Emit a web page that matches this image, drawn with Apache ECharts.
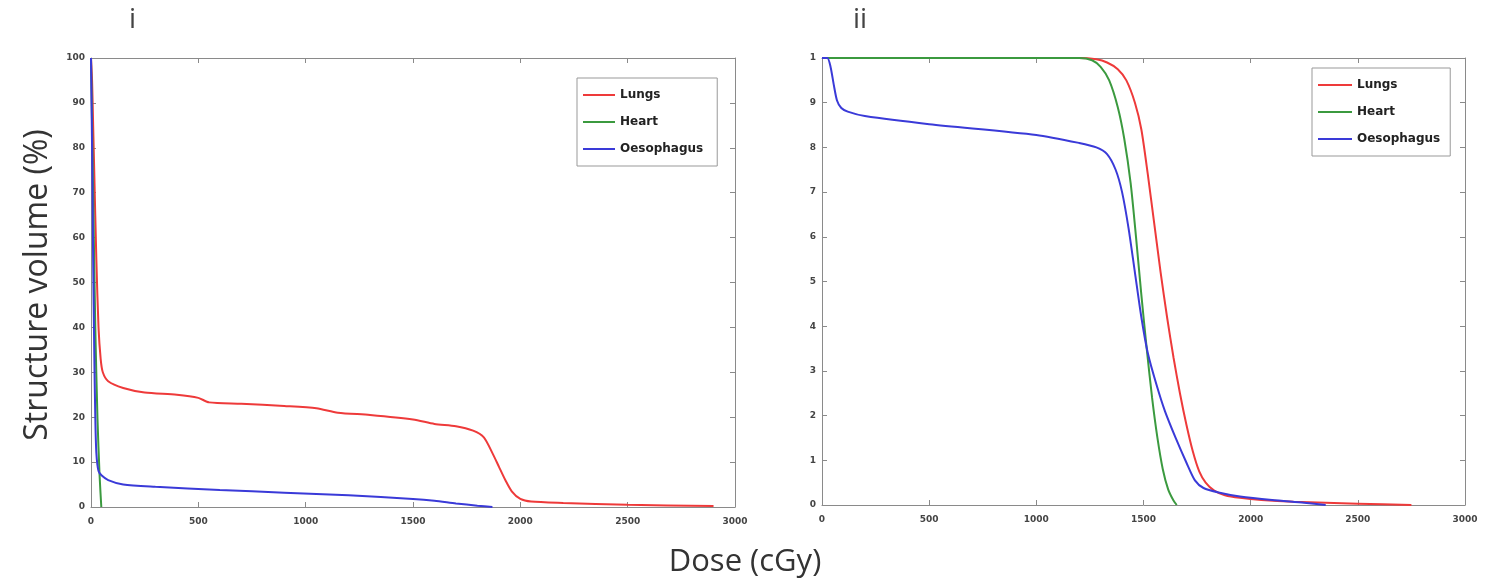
<!DOCTYPE html>
<html>
<head>
<meta charset="utf-8">
<script src="https://cdn.jsdelivr.net/npm/echarts@6/dist/echarts.min.js"></script>
<style>
  html, body { margin: 0; padding: 0; background: #fff; }
  #main { width: 1495px; height: 584px; }
</style>
</head>
<body>
<div id="main"></div>
<script>
// panel i
var lungsDoseI = [0, 5, 10, 15, 25, 35, 45, 55, 80, 150, 250, 400, 500, 550, 700, 900, 1050, 1150, 1300, 1500, 1600, 1700, 1780, 1830, 1870, 1900, 1930, 1960, 2000, 2050, 2200, 2500, 2900];
var lungsVolI  = [100, 95, 85, 75, 55, 40, 33, 30, 28, 26.5, 25.5, 25, 24.3, 23.3, 23, 22.5, 22, 21, 20.5, 19.5, 18.5, 18, 17, 15.5, 12, 9, 6, 3.5, 1.8, 1.2, 0.9, 0.5, 0.2];
var heartDoseI = [0, 10, 20, 30, 40, 48];
var heartVolI  = [100, 70, 40, 20, 7, 0];
var oesoDoseI  = [0, 5, 10, 15, 20, 25, 35, 50, 80, 150, 300, 600, 900, 1200, 1500, 1600, 1700, 1800, 1870];
var oesoVolI   = [100, 80, 55, 35, 20, 12, 8, 7, 6, 5, 4.5, 3.8, 3.2, 2.6, 1.8, 1.4, 0.8, 0.3, 0];

// panel ii
var lungsDoseII = [0, 1200, 1280, 1330, 1380, 1420, 1460, 1490, 1520, 1550, 1580, 1610, 1640, 1670, 1700, 1730, 1760, 1790, 1830, 1880, 1950, 2050, 2200, 2500, 2750];
var lungsVolII  = [100, 100, 99.7, 99, 97.5, 95, 90, 84, 74, 63, 52, 42, 33, 25, 18, 12, 7.5, 5, 3.2, 2.2, 1.6, 1.1, 0.7, 0.3, 0];
var heartDoseII = [0, 1200, 1260, 1300, 1340, 1380, 1410, 1440, 1465, 1490, 1515, 1540, 1565, 1590, 1615, 1640, 1655];
var heartVolII  = [100, 100, 99.5, 98, 95, 89, 82, 72, 60, 47, 35, 24, 15, 8, 3.5, 1, 0];
var oesoDoseII  = [0, 25, 40, 55, 70, 90, 120, 200, 500, 1000, 1200, 1280, 1330, 1370, 1400, 1430, 1460, 1490, 1520, 1560, 1600, 1650, 1700, 1740, 1780, 1850, 1950, 2100, 2250, 2350];
var oesoVolII   = [100, 100, 98, 94, 90.5, 88.8, 88, 87, 85.2, 82.8, 81, 80, 78.5, 75, 70, 62, 52, 42, 34, 27, 21, 15, 9.5, 5.5, 3.8, 2.8, 1.9, 1.1, 0.5, 0];

var names = ['Lungs', 'Heart', 'Oesophagus'];
var colors = ['#ee3a3a', '#3b9a3f', '#3a3ad8'];

function pairs(xs, ys) {
  return xs.map(function (x, i) { return [x, ys[i]]; });
}

var tickFont = { fontSize: 9, fontWeight: 'bold', color: '#444', fontFamily: 'DejaVu Sans' };
var boxColor = '#8a8a8a';

function mainX(grid) {
  return {
    type: 'value', gridIndex: grid, min: 0, max: 3000, interval: 500,
    axisLine: { show: true, onZero: false, lineStyle: { color: boxColor } },
    axisTick: { show: true, inside: true, length: 5, lineStyle: { color: boxColor } },
    axisLabel: Object.assign({ margin: 10, formatter: function (v) { return String(v); } }, tickFont),
    splitLine: { show: false }
  };
}
function boxX(grid) {
  return {
    type: 'value', gridIndex: grid, min: 0, max: 3000, interval: 500, position: 'top',
    axisLine: { show: true, onZero: false, lineStyle: { color: boxColor } },
    axisTick: { show: true, inside: true, length: 5, lineStyle: { color: boxColor } },
    axisLabel: { show: false }, splitLine: { show: false }
  };
}
function mainY(grid, fmt) {
  return {
    type: 'value', gridIndex: grid, min: 0, max: 100, interval: 10,
    axisLine: { show: true, onZero: false, lineStyle: { color: boxColor } },
    axisTick: { show: true, inside: true, length: 5, lineStyle: { color: boxColor } },
    axisLabel: Object.assign({ margin: 6, formatter: fmt }, tickFont),
    splitLine: { show: false }
  };
}
function boxY(grid) {
  return {
    type: 'value', gridIndex: grid, min: 0, max: 100, interval: 10, position: 'right',
    axisLine: { show: true, onZero: false, lineStyle: { color: boxColor } },
    axisTick: { show: true, inside: true, length: 5, lineStyle: { color: boxColor } },
    axisLabel: { show: false }, splitLine: { show: false }
  };
}

function line(name, color, data, xi, yi) {
  return {
    name: name, type: 'line', xAxisIndex: xi, yAxisIndex: yi,
    data: data, symbol: 'none', smooth: 0.25,
    lineStyle: { color: color, width: 2 }, itemStyle: { color: color },
    z: 3
  };
}

var legendBase = {
  orient: 'vertical', data: names, icon: 'path://M0,0 L32,0 L32,2 L0,2 Z',
  itemGap: 15, itemHeight: 12,
  borderColor: '#999', borderWidth: 1, backgroundColor: '#fff',
  textStyle: { fontSize: 12, fontWeight: 'bold', color: '#222', fontFamily: 'DejaVu Sans' }
};

var chart = echarts.init(document.getElementById('main'));
chart.setOption({
  animation: false,
  color: colors,
  grid: [
    { left: 91, top: 58, width: 644, height: 449 },
    { left: 822, top: 58, width: 643, height: 447 }
  ],
  xAxis: [mainX(0), boxX(0), mainX(1), boxX(1)],
  yAxis: [
    mainY(0, '{value}'), boxY(0),
    mainY(1, function (v) { return String(v).charAt(0); }), boxY(1)
  ],
  legend: [
    Object.assign({}, legendBase, { left: 577, top: 78, itemWidth: 32, padding: [11, 14, 11, 6] }),
    Object.assign({}, legendBase, { left: 1312, top: 68, itemWidth: 34, padding: [11, 10, 11, 6] })
  ],
  graphic: [
    { type: 'text', left: 129, top: 6, style: { text: 'i', fontSize: 28, fill: '#444', fontFamily: 'Open Sans' } },
    { type: 'text', left: 853, top: 6, style: { text: 'ii', fontSize: 28, fill: '#444', fontFamily: 'Open Sans' } },
    { type: 'text', x: 38, y: 285, rotation: Math.PI / 2,
      style: { text: 'Structure volume (%)', fontSize: 32, fill: '#333', fontFamily: 'Open Sans', align: 'center', verticalAlign: 'middle' } },
    { type: 'text', x: 745, y: 562,
      style: { text: 'Dose (cGy)', fontSize: 31, fill: '#333', fontFamily: 'Open Sans', align: 'center', verticalAlign: 'middle' } }
  ],
  series: [
    line('Lungs', colors[0], pairs(lungsDoseI, lungsVolI), 0, 0),
    line('Heart', colors[1], pairs(heartDoseI, heartVolI), 0, 0),
    line('Oesophagus', colors[2], pairs(oesoDoseI, oesoVolI), 0, 0),
    line('Lungs', colors[0], pairs(lungsDoseII, lungsVolII), 2, 2),
    line('Heart', colors[1], pairs(heartDoseII, heartVolII), 2, 2),
    line('Oesophagus', colors[2], pairs(oesoDoseII, oesoVolII), 2, 2)
  ]
});
</script>
</body>
</html>
